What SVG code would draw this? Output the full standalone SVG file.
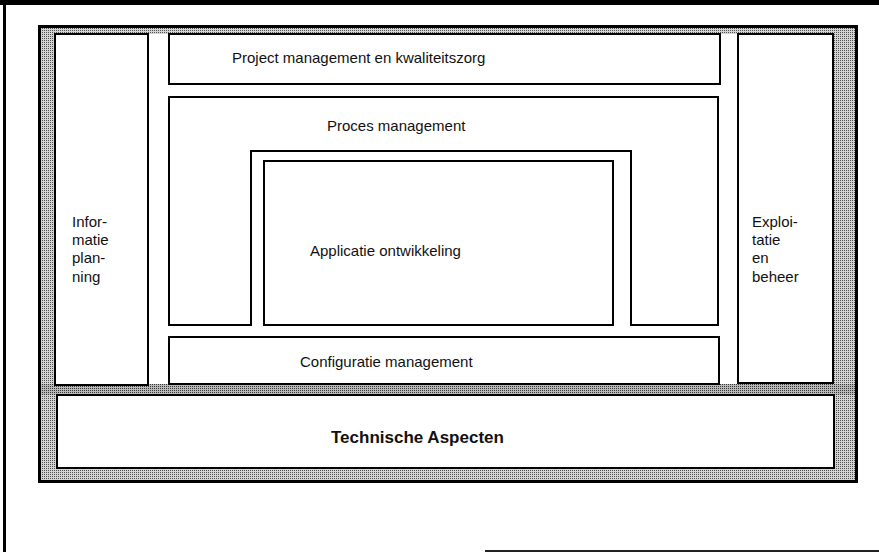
<svg xmlns="http://www.w3.org/2000/svg" width="879" height="552" viewBox="0 0 879 552">
  <defs>
    <pattern id="stipple" width="2" height="2" patternUnits="userSpaceOnUse">
      <rect width="2" height="2" fill="#d4d4d4"/>
      <rect width="1" height="1" fill="#505050"/>
    </pattern>
    <pattern id="stipple-dark" width="2" height="2" patternUnits="userSpaceOnUse">
      <rect width="2" height="2" fill="#b8b8b8"/>
      <rect width="1" height="1" fill="#383838"/>
    </pattern>
    <style>
      .box { fill: #ffffff; stroke: #000000; stroke-width: 2; }
      .lbl { font-family: "Liberation Sans", Arial, sans-serif; font-size: 15px; fill: #111111; }
      .big { font-family: "Liberation Sans", Arial, sans-serif; font-size: 17px; font-weight: bold; fill: #111111; }
    </style>
  </defs>

  <!-- page -->
  <rect x="0" y="0" width="879" height="552" fill="#ffffff"/>
  <rect x="0" y="0" width="879" height="5" fill="#000000"/>
  <rect x="3" y="0" width="3" height="552" fill="#000000"/>
  <rect x="485" y="550" width="394" height="2" fill="#222222"/>

  <!-- stippled frame with open white field for the upper blocks -->
  <rect x="39.5" y="26.5" width="817" height="455" fill="url(#stipple)" stroke="#000000" stroke-width="3"/>
  <rect x="41" y="384" width="814" height="11" fill="url(#stipple-dark)"/>
  <rect x="55" y="34" width="778" height="350" fill="#ffffff"/>

  <g id="informatie-planning">
    <rect class="box" x="55" y="34" width="93" height="351"/>
    <text class="lbl" x="72" y="227">Infor-</text>
    <text class="lbl" x="72" y="245">matie</text>
    <text class="lbl" x="72" y="263">plan-</text>
    <text class="lbl" x="72" y="282">ning</text>
  </g>

  <g id="project-management">
    <rect class="box" x="169" y="34" width="551" height="50"/>
    <text class="lbl" x="232" y="63">Project management en kwaliteitszorg</text>
  </g>

  <g id="proces-management">
    <path class="box" d="M169,97 H718 V325 H631 V151 H251 V325 H169 Z"/>
    <text class="lbl" x="327" y="131">Proces management</text>
  </g>

  <g id="applicatie-ontwikkeling">
    <rect class="box" x="264" y="161" width="349" height="164"/>
    <text class="lbl" x="310" y="256">Applicatie ontwikkeling</text>
  </g>

  <g id="configuratie-management">
    <rect class="box" x="169" y="337" width="550" height="47"/>
    <text class="lbl" x="300" y="367">Configuratie management</text>
  </g>

  <g id="exploitatie-beheer">
    <rect class="box" x="738" y="34" width="95" height="349"/>
    <text class="lbl" x="752" y="227">Exploi-</text>
    <text class="lbl" x="752" y="245">tatie</text>
    <text class="lbl" x="752" y="263">en</text>
    <text class="lbl" x="752" y="282">beheer</text>
  </g>

  <g id="technische-aspecten">
    <rect class="box" x="57" y="395" width="777" height="73"/>
    <text class="big" x="331" y="443">Technische Aspecten</text>
  </g>

  <g id="connectors"/>
</svg>
